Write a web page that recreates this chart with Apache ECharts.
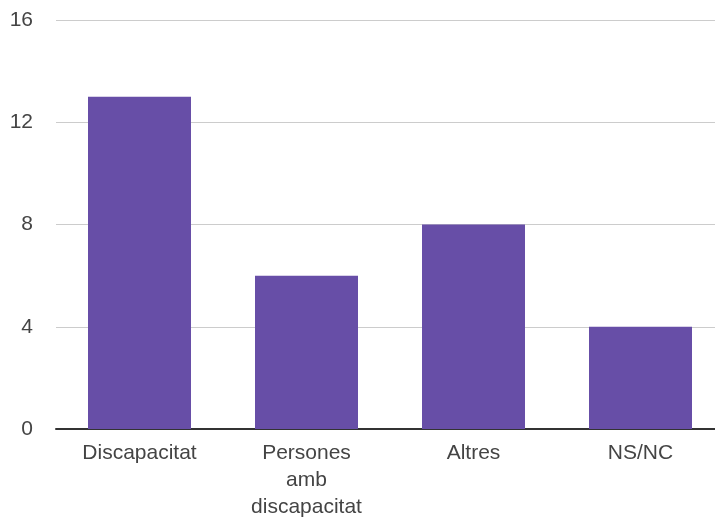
<!DOCTYPE html>
<html lang="ca">
<head>
    <meta charset="UTF-8">
    <title>Discapacitat</title>
    <script src="https://cdn.jsdelivr.net/npm/echarts@6/dist/echarts.min.js"></script>
    <style>
        html, body { margin: 0; padding: 0; background: #fff; overflow: hidden; }
        /* the plot runs a little past the right edge of the window, as in the original */
        #main { width: 724px; height: 521px; }
    </style>
</head>
<body>
<div id="main"></div>
<script>
    var categories = ['Discapacitat', 'Persones\namb\ndiscapacitat', 'Altres', 'NS/NC'];
    var values = [13, 6, 8, 4];

    var myChart = echarts.init(document.getElementById('main'));
    var option = {
        animation: false,
        grid: { left: 56, top: 20, right: 0, height: 411 },
        xAxis: {
            type: 'category',
            data: categories,
            axisTick: { show: false },
            axisLine: { lineStyle: { color: '#333', width: 2 } },
            axisLabel: {
                interval: 0,
                margin: 11,
                color: '#444',
                fontFamily: 'Liberation Sans, Arial, sans-serif',
                fontSize: 21,
                lineHeight: 27
            }
        },
        yAxis: {
            type: 'value',
            min: 0,
            max: 16,
            interval: 4,
            axisLine: { show: false },
            axisTick: { show: false },
            splitLine: { lineStyle: { color: '#ccc' } },
            axisLabel: {
                margin: 23,
                color: '#444',
                fontFamily: 'Liberation Sans, Arial, sans-serif',
                fontSize: 21
            }
        },
        series: [{
            type: 'bar',
            data: values,
            barWidth: 103,
            itemStyle: { color: '#674ea7' }
        }]
    };
    myChart.setOption(option);
</script>
</body>
</html>
